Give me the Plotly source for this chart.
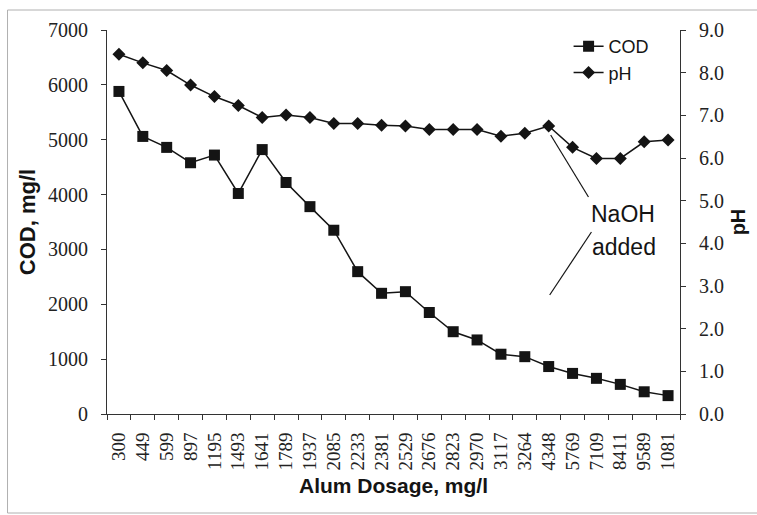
import plotly.graph_objects as go

dosage_labels = ["300", "449", "599", "897", "1195", "1493", "1641", "1789", "1937", "2085",
                 "2233", "2381", "2529", "2676", "2823", "2970", "3117", "3264", "4348", "5769",
                 "7109", "8411", "9589", "1081"]
cod_values = [5880, 5060, 4860, 4580, 4720, 4020, 4820, 4220, 3780, 3350,
               2595, 2200, 2230, 1850, 1500, 1350, 1090, 1045, 865, 740,
               650, 540, 405, 335]
ph_values = [8.43, 8.23, 8.05, 7.71, 7.44, 7.23, 6.95, 7.01, 6.95, 6.81,
             6.81, 6.77, 6.75, 6.67, 6.67, 6.67, 6.51, 6.58, 6.75, 6.25,
             5.99, 5.99, 6.38, 6.42]

INK = "#141414"
SERIF = "Liberation Serif, Times New Roman, Times, serif"
SANS = "Liberation Sans, Arial, sans-serif"
L, R, T, B = 107, 74, 30, 101
W, H = 757, 515
PW, PH = W - L - R, H - T - B


def px_x(px):
    return (px - L) / PW


def px_y(py):
    return (H - B - py) / PH


fig = go.Figure()
fig.add_trace(go.Scatter(
    x=dosage_labels, y=cod_values, name="COD", mode="lines+markers",
    line=dict(color=INK, width=1.5),
    marker=dict(symbol="square", size=11, color=INK),
    legendgroup="a"))
fig.add_trace(go.Scatter(
    x=dosage_labels, y=ph_values, name="pH", mode="lines+markers", yaxis="y2",
    line=dict(color=INK, width=1.5),
    marker=dict(symbol="diamond", size=10, color=INK),
    legendgroup="b"))

fig.update_layout(
    width=W, height=H,
    margin=dict(l=L, r=R, t=T, b=B),
    paper_bgcolor="white", plot_bgcolor="white",
    showlegend=True,
    legend=dict(x=px_x(571), y=px_y(28), xanchor="left", yanchor="top",
                bgcolor="rgba(0,0,0,0)", font=dict(family=SANS, size=18, color=INK),
                traceorder="grouped", tracegroupgap=0),
    xaxis=dict(type="category", range=[-0.5, 23.5], showgrid=False, showline=True,
               linecolor="#333", linewidth=1, ticks="outside", ticklen=5, tickcolor="#333",
               tickson="boundaries", tickangle=-90, ticklabelstandoff=10,
               tickfont=dict(family=SERIF, size=19, color="#222"),
               title=dict(text="Alum Dosage, mg/l", standoff=8,
                          font=dict(family=SANS, size=21, color=INK, weight="bold"))),
    yaxis=dict(range=[0, 7000], dtick=1000, showgrid=False, showline=True, zeroline=False,
               linecolor="#333", linewidth=1, ticks="outside", ticklen=5, tickcolor="#333",
               ticklabelstandoff=9,
               tickfont=dict(family=SERIF, size=20, color="#222"),
               title=dict(text="COD, mg/l", standoff=6,
                          font=dict(family=SANS, size=22, color=INK, weight="bold"))),
    yaxis2=dict(range=[0, 9], dtick=1, tickformat=".1f", overlaying="y", side="right",
                showgrid=False, showline=True, zeroline=False,
                linecolor="#333", linewidth=1, ticks="outside", ticklen=5, tickcolor="#333",
                ticklabelstandoff=9,
                tickfont=dict(family=SERIF, size=20, color="#222"),
                title=dict(text="pH", standoff=7,
                           font=dict(family=SANS, size=20, color=INK, weight="bold"))),
)

# NaOH annotation text
fig.add_annotation(x=px_x(626), y=px_y(214), xref="paper", yref="paper", text="NaOH",
                   xanchor="center", yanchor="middle",
                   showarrow=False, font=dict(family=SANS, size=23, color=INK))
fig.add_annotation(x=px_x(627), y=px_y(247), xref="paper", yref="paper", text="added",
                   xanchor="center", yanchor="middle",
                   showarrow=False, font=dict(family=SANS, size=23, color=INK))
# leader lines
fig.add_shape(type="line", xref="paper", yref="paper",
              x0=px_x(553), y0=px_y(135), x1=px_x(591), y1=px_y(197),
              line=dict(color=INK, width=1.2))
fig.add_shape(type="line", xref="paper", yref="paper",
              x0=px_x(594), y0=px_y(232), x1=px_x(552), y1=px_y(295),
              line=dict(color=INK, width=1.2))
# faint figure frame
fig.add_shape(type="rect", xref="paper", yref="paper",
              x0=px_x(7), y0=px_y(513), x1=px_x(762), y1=px_y(10),
              line=dict(color="#b0b0b0", width=1))

fig.write_html("out.html")
